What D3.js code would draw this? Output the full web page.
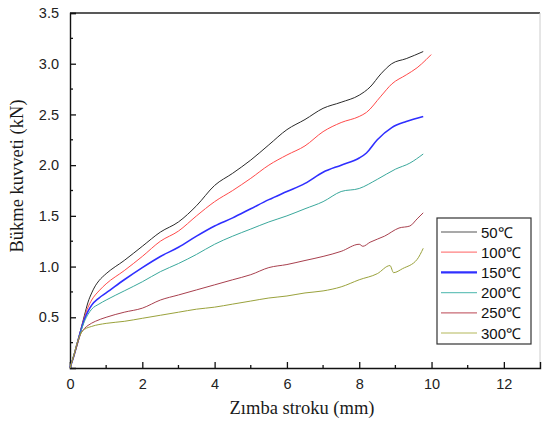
<!DOCTYPE html>
<html>
<head>
<meta charset="utf-8">
<script src="https://cdn.jsdelivr.net/npm/d3@7"></script>
<style>
  body { margin: 0; background: #fff; }
  .tick-label { font-family: "Liberation Sans", Arial, sans-serif; font-size: 14.5px; fill: #222; }
  .axis-title { font-family: "Liberation Serif", "Times New Roman", serif; font-size: 18.5px; fill: #1a1a1a; }
  .legend-text { font-family: "Liberation Sans", Arial, sans-serif; font-size: 15px; fill: #111; }
</style>
</head>
<body>
<svg id="chart" width="542" height="424"></svg>
<script>
var seriesNames = ['50\u2103', '100\u2103', '150\u2103', '200\u2103', '250\u2103', '300\u2103'];
var seriesColors = ['#2a2a2a', '#ff4a4a', '#2f2fff', '#3aa89c', '#a8404e', '#9aa23c'];
var legendColors = ['#555', '#ff8080', '#3030ff', '#6cc4bc', '#c86a74', '#b4b85a'];
var seriesWidths = [1, 1, 1.6, 1, 1, 1];

var xTicks = [0, 2, 4, 6, 8, 10, 12];
var yTicks = [0.5, 1.0, 1.5, 2.0, 2.5, 3.0, 3.5];

// [stroke mm, force kN]
var s50 = [[0,0],[0.1,0.12],[0.2,0.25],[0.3,0.38],[0.4,0.52],[0.5,0.65],[0.6,0.74],[0.7,0.81],[0.8,0.86],[1,0.93],[1.5,1.06],[2,1.2],[2.5,1.34],[3,1.44],[3.5,1.6],[4,1.8],[4.5,1.92],[5,2.05],[5.5,2.2],[6,2.35],[6.5,2.45],[7,2.56],[7.5,2.62],[8,2.69],[8.3,2.77],[8.6,2.9],[8.9,3.0],[9.3,3.05],[9.77,3.12]];
var s100 = [[0,0],[0.1,0.11],[0.2,0.24],[0.3,0.38],[0.4,0.5],[0.5,0.6],[0.6,0.67],[0.8,0.76],[1,0.83],[1.5,0.96],[2,1.1],[2.5,1.25],[3,1.35],[3.5,1.5],[4,1.64],[4.5,1.75],[5,1.87],[5.5,2.0],[6,2.1],[6.5,2.19],[7,2.33],[7.5,2.42],[8,2.48],[8.2,2.52],[8.6,2.68],[8.9,2.8],[9.3,2.89],[9.6,2.96],[9.85,3.04],[9.99,3.09]];
var s150 = [[0,0],[0.1,0.11],[0.2,0.24],[0.3,0.37],[0.4,0.48],[0.5,0.56],[0.6,0.62],[0.8,0.69],[1,0.74],[1.5,0.87],[2,0.99],[2.5,1.1],[3,1.19],[3.5,1.3],[4,1.4],[4.5,1.48],[5,1.57],[5.5,1.66],[6,1.74],[6.5,1.82],[7,1.93],[7.5,2.0],[8,2.07],[8.2,2.12],[8.5,2.25],[8.9,2.37],[9.3,2.43],[9.77,2.48]];
var s200 = [[0,0],[0.1,0.11],[0.2,0.23],[0.3,0.36],[0.4,0.46],[0.5,0.53],[0.6,0.58],[0.8,0.63],[1,0.67],[1.5,0.76],[2,0.85],[2.5,0.95],[3,1.03],[3.5,1.12],[4,1.22],[4.5,1.3],[5,1.37],[5.5,1.44],[6,1.5],[6.5,1.57],[7,1.64],[7.5,1.74],[8,1.77],[8.5,1.86],[9,1.96],[9.4,2.02],[9.77,2.11]];
var s250 = [[0,0],[0.1,0.11],[0.2,0.23],[0.3,0.34],[0.4,0.39],[0.5,0.42],[0.7,0.46],[1,0.5],[1.5,0.55],[2,0.59],[2.5,0.67],[3,0.72],[3.5,0.77],[4,0.82],[4.5,0.87],[5,0.92],[5.5,0.99],[6,1.02],[6.5,1.06],[7,1.1],[7.5,1.15],[8,1.22],[8.1,1.2],[8.3,1.24],[8.7,1.3],[9.1,1.38],[9.4,1.4],[9.6,1.47],[9.77,1.53]];
var s300 = [[0,0],[0.1,0.12],[0.2,0.25],[0.3,0.34],[0.4,0.38],[0.6,0.41],[1,0.44],[1.5,0.46],[2,0.49],[2.5,0.52],[3,0.55],[3.5,0.58],[4,0.6],[4.5,0.63],[5,0.66],[5.5,0.69],[6,0.71],[6.5,0.74],[7,0.76],[7.5,0.8],[8,0.87],[8.5,0.93],[8.85,1.01],[8.95,0.94],[9.2,0.98],[9.6,1.07],[9.77,1.18]];
var allSeries = [s50, s100, s150, s200, s250, s300];

var LEFT = 70, RIGHT = 540, TOP = 13, BOTTOM = 368;

var svg = d3.select('#chart');
var x = d3.scaleLinear().domain([0, 13]).range([LEFT, RIGHT]);
var y = d3.scaleLinear().domain([0, 3.5]).range([BOTTOM, TOP]);

// frame: top dark, right light
svg.append('line').attr('x1', LEFT).attr('x2', RIGHT).attr('y1', TOP).attr('y2', TOP)
    .attr('stroke', '#222').attr('stroke-width', 1.6);
svg.append('line').attr('x1', RIGHT).attr('x2', RIGHT).attr('y1', TOP).attr('y2', BOTTOM)
    .attr('stroke', '#ccc').attr('stroke-width', 1);

// x axis, ticks pointing inward
var xAxis = d3.axisBottom(x).tickValues(xTicks).tickSize(-6).tickPadding(11).tickFormat(d3.format('d'));
var gx = svg.append('g').attr('transform', 'translate(0,' + BOTTOM + ')').call(xAxis);
gx.select('.domain').attr('stroke', '#111').attr('stroke-width', 1.4);
gx.selectAll('.tick line').attr('stroke', '#111').attr('stroke-width', 1.3);
gx.selectAll('.tick text').attr('class', 'tick-label');
gx.selectAll('.minor').data(d3.range(1, 13, 2)).enter().append('line')
    .attr('x1', function(d) { return x(d); }).attr('x2', function(d) { return x(d); })
    .attr('y1', 0).attr('y2', -3).attr('stroke', '#111').attr('stroke-width', 1.3);

// y axis
var yAxis = d3.axisLeft(y).tickValues(yTicks).tickSize(-6).tickPadding(11).tickFormat(d3.format('.1f'));
var gy = svg.append('g').attr('transform', 'translate(' + LEFT + ',0)').call(yAxis);
gy.select('.domain').attr('stroke', '#111').attr('stroke-width', 1.4);
gy.selectAll('.tick line').attr('stroke', '#111').attr('stroke-width', 1.3);
gy.selectAll('.tick text').attr('class', 'tick-label');
gy.selectAll('.minor').data(d3.range(0.25, 3.5, 0.5)).enter().append('line')
    .attr('y1', function(d) { return y(d); }).attr('y2', function(d) { return y(d); })
    .attr('x1', 0).attr('x2', 3).attr('stroke', '#111').attr('stroke-width', 1.3);

// titles
svg.append('text').attr('class', 'axis-title')
    .attr('x', 302).attr('y', 414).attr('text-anchor', 'middle')
    .text('Zımba stroku (mm)');
svg.append('text').attr('class', 'axis-title')
    .attr('transform', 'translate(23,176) rotate(-90)').attr('text-anchor', 'middle')
    .text('Bükme kuvveti (kN)');

// curves
var line = d3.line()
    .x(function(d) { return x(d[0]); })
    .y(function(d) { return y(d[1]); })
    .curve(d3.curveMonotoneX);

allSeries.forEach(function(series, i) {
    svg.append('path')
        .datum(series)
        .attr('d', line)
        .attr('fill', 'none')
        .attr('stroke', seriesColors[i])
        .attr('stroke-width', seriesWidths[i]);
});

// legend
var legend = svg.append('g').attr('transform', 'translate(437,218)');
legend.append('rect').attr('width', 94).attr('height', 126)
    .attr('fill', '#fff').attr('stroke', '#333').attr('stroke-width', 1.2);
seriesNames.forEach(function(name, i) {
    var ly = 14 + i * 20.2;
    legend.append('line').attr('x1', 4).attr('x2', 40).attr('y1', ly).attr('y2', ly)
        .attr('stroke', legendColors[i]).attr('stroke-width', i === 2 ? 2.4 : 1.2);
    legend.append('text').attr('class', 'legend-text')
        .attr('x', 44).attr('y', ly + 5.5).text(name);
});
</script>
</body>
</html>
